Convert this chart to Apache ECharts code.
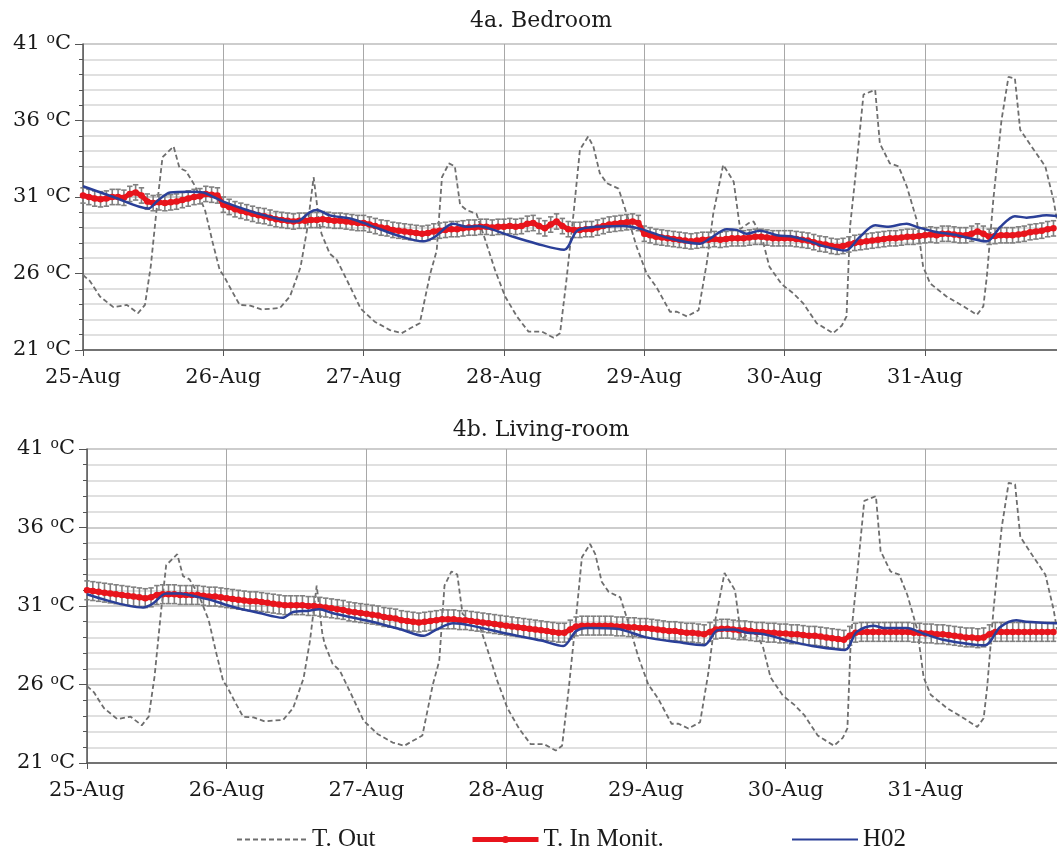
<!DOCTYPE html>
<html>
<head>
<meta charset="utf-8">
<script src="https://cdn.jsdelivr.net/npm/echarts@6/dist/echarts.min.js"></script>
<style>
  html, body { margin: 0; padding: 0; background: #fff; }
  #chart { width: 1057px; height: 850px; }
</style>
</head>
<body>
<div id="chart"></div>
<script>
var DAYS = ['25-Aug', '26-Aug', '27-Aug', '28-Aug', '29-Aug', '30-Aug', '31-Aug'];
var TITLES = ['4a. Bedroom', '4b. Living-room'];
var SERIES_NAMES = ['T. Out', 'T. In Monit.', 'H02'];

// outdoor temperature, [hours from 25-Aug 00:00, degC] - same in both panels
var tOut = [
  [0, 25.9], [1.2, 25.5], [2.9, 24.5], [5.2, 23.8], [7.5, 23.95], [9.4, 23.4], [10.6, 23.95],
  [11.6, 26.5], [12.7, 30.6], [13.6, 33.6], [15.5, 34.3], [16.5, 32.9], [17.6, 32.7], [19.2, 31.7],
  [20.9, 30.1], [22.2, 28.0], [23.4, 26.2], [24.0, 25.9], [25.7, 24.7], [26.8, 23.95], [28.6, 23.9],
  [30.5, 23.65], [33.7, 23.75], [35.4, 24.5], [37.2, 26.4], [38.3, 28.8], [39.45, 32.3], [40.4, 29.3],
  [40.8, 28.6], [42.2, 27.3], [43.4, 26.9], [45.1, 25.6], [47.5, 23.7], [49.9, 22.85], [52.5, 22.3],
  [54.5, 22.1], [55.9, 22.4], [57.6, 22.75], [59.4, 26.0], [60.5, 27.5], [61.4, 32.3], [62.6, 33.2],
  [63.6, 33.0], [64.5, 30.5], [65.6, 30.15], [67.3, 29.9], [68.8, 28.2], [70.5, 26.2], [72.2, 24.5],
  [74.2, 23.2], [76.2, 22.2], [78.5, 22.2], [80.5, 21.8], [81.6, 22.1], [82.7, 25.6], [83.9, 29.9],
  [85.0, 34.1], [86.4, 34.95], [87.3, 34.3], [88.4, 32.55], [89.6, 31.9], [91.6, 31.55], [93.0, 29.9],
  [94.7, 27.75], [96.4, 26.0], [98.1, 25.1], [100.4, 23.5], [101.6, 23.5], [103.3, 23.2], [105.3, 23.6],
  [106.7, 26.7], [107.8, 29.9], [109.5, 33.1], [111.3, 32.0], [112.4, 28.9], [113.9, 29.3], [114.7, 29.4],
  [116.1, 28.4], [117.4, 26.45], [119.5, 25.3], [121.5, 24.7], [123.2, 24.05], [125.5, 22.75], [128.3, 22.1],
  [129.8, 22.6], [130.6, 23.2], [131.2, 29.05], [132.1, 32.3], [133.5, 37.7], [135.5, 38.0], [136.3, 34.5],
  [138.0, 33.2], [139.5, 33.0], [140.9, 31.7], [142.6, 29.5], [143.7, 26.45], [144.9, 25.35], [147.7, 24.5],
  [150.6, 23.85], [152.9, 23.3], [154.0, 23.85], [154.6, 25.8], [155.7, 30.8], [157.1, 36.0], [158.3, 38.85],
  [159.4, 38.75], [160.3, 35.4], [162.6, 34.1], [164.6, 33.0], [166.0, 30.8], [166.6, 29.5]
];

// monitored indoor temperature, hourly from 25-Aug 00:00
var bedIn = [
  31.1, 31.0, 30.9, 30.85, 30.9, 31.0, 31.0, 30.95, 31.2, 31.3, 31.1, 30.7, 30.6, 30.65, 30.6, 30.65, 30.7, 30.8, 30.9, 31.0, 31.05, 31.2, 31.15, 31.1,
  30.5, 30.35, 30.2, 30.1, 30.0, 29.9, 29.8, 29.75, 29.65, 29.55, 29.5, 29.45, 29.4, 29.45, 29.45, 29.5, 29.5, 29.55, 29.5, 29.45, 29.45, 29.4, 29.35, 29.3,
  29.3, 29.2, 29.1, 29.0, 28.95, 28.85, 28.8, 28.75, 28.7, 28.65, 28.6, 28.65, 28.75, 28.8, 28.85, 28.9, 28.9, 28.95, 29.0, 29.0, 29.05, 29.05, 29.0, 29.05,
  29.05, 29.1, 29.05, 29.1, 29.25, 29.3, 29.1, 28.95, 29.2, 29.4, 29.1, 28.9, 28.85, 28.85, 28.9, 28.9, 29.0, 29.1, 29.2, 29.25, 29.3, 29.35, 29.4, 29.3,
  28.6, 28.5, 28.4, 28.35, 28.3, 28.25, 28.2, 28.15, 28.1, 28.15, 28.2, 28.2, 28.25, 28.2, 28.25, 28.3, 28.3, 28.3, 28.35, 28.4, 28.4, 28.35, 28.3, 28.3,
  28.3, 28.3, 28.25, 28.2, 28.15, 28.05, 27.95, 27.9, 27.8, 27.75, 27.8, 27.9, 28.0, 28.05, 28.1, 28.15, 28.2, 28.25, 28.3, 28.3, 28.35, 28.4, 28.4, 28.45,
  28.5, 28.55, 28.5, 28.6, 28.6, 28.55, 28.5, 28.5, 28.6, 28.75, 28.6, 28.4, 28.45, 28.5, 28.5, 28.5, 28.55, 28.6, 28.7, 28.75, 28.8, 28.9, 28.95
];
var livIn = [
  32.0, 31.95, 31.9, 31.85, 31.8, 31.75, 31.7, 31.65, 31.6, 31.55, 31.5, 31.55, 31.7, 31.75, 31.75, 31.75, 31.7, 31.7, 31.7, 31.7, 31.65, 31.6, 31.6, 31.55,
  31.5, 31.45, 31.4, 31.35, 31.3, 31.3, 31.25, 31.2, 31.15, 31.1, 31.05, 31.05, 31.05, 31.05, 31.0, 31.0, 30.95, 30.9, 30.85, 30.8, 30.75, 30.65, 30.6, 30.55,
  30.5, 30.45, 30.4, 30.3, 30.25, 30.2, 30.1, 30.05, 30.0, 29.95, 30.0, 30.05, 30.1, 30.15, 30.15, 30.15, 30.1, 30.1, 30.05, 30.0, 29.95, 29.9, 29.85, 29.8,
  29.75, 29.7, 29.65, 29.6, 29.55, 29.5, 29.45, 29.4, 29.35, 29.3, 29.3, 29.5, 29.7, 29.75, 29.75, 29.75, 29.75, 29.75, 29.75, 29.7, 29.7, 29.65, 29.65, 29.6,
  29.6, 29.55, 29.5, 29.45, 29.4, 29.4, 29.35, 29.3, 29.3, 29.25, 29.2, 29.35, 29.5, 29.55, 29.55, 29.5, 29.45, 29.45, 29.4, 29.35, 29.35, 29.3, 29.3, 29.25,
  29.25, 29.2, 29.2, 29.15, 29.1, 29.1, 29.05, 29.0, 28.95, 28.9, 28.85, 29.1, 29.3, 29.35, 29.35, 29.35, 29.35, 29.35, 29.35, 29.35, 29.35, 29.35, 29.3, 29.3,
  29.25, 29.25, 29.2, 29.2, 29.15, 29.1, 29.05, 29.0, 29.0, 28.95, 29.0, 29.2, 29.35, 29.35, 29.35, 29.35, 29.35, 29.35, 29.35, 29.35, 29.35, 29.35, 29.35
];
// half-width of the error bars on the monitored series
var bedErr = 0.5;
var livErr = 0.6;

// H02 logger, [hours, degC]
var bedH02 = [
  [0, 31.7], [5.2, 31.0], [11.2, 30.25], [12.6, 30.7], [14.9, 31.3], [18.3, 31.35], [20.6, 31.3], [22.3, 31.0],
  [24, 30.7], [28, 30.15], [32, 29.7], [36, 29.4], [37, 29.45], [38.8, 30.0], [40, 30.15], [42.2, 29.8],
  [45.7, 29.6], [49.1, 29.15], [53.7, 28.5], [58.2, 28.1], [60.2, 28.4], [62.2, 29.05], [63.3, 29.25], [65.6, 29.05],
  [67.6, 29.1], [70.2, 28.85], [73.6, 28.4], [77.6, 27.95], [82.3, 27.55], [84.4, 28.75], [86.5, 29.0], [92.4, 29.1],
  [95.5, 28.9], [99.8, 28.35], [105.5, 27.95], [107.3, 28.3], [110.1, 28.9], [111.8, 28.85], [113.5, 28.6], [115.8, 28.8],
  [118.7, 28.5], [121.5, 28.4], [124.4, 28.1], [126.1, 27.85], [130.4, 27.5], [132.9, 28.4], [135.5, 29.15], [137.5, 29.05],
  [140.9, 29.25], [142.6, 29.05], [145.5, 28.75], [149.5, 28.5], [154.6, 28.1], [156.9, 29.05], [159.4, 29.75], [161.4, 29.65],
  [164.8, 29.8], [166.6, 29.75]
];
var livH02 = [
  [0, 31.75], [9.6, 30.9], [11.3, 31.15], [13.6, 31.8], [15.9, 31.8], [19.3, 31.55], [21.6, 31.35], [25, 30.95],
  [29.6, 30.55], [33.6, 30.25], [35.3, 30.6], [38.1, 30.7], [39.9, 30.8], [42.1, 30.55], [46.4, 30.2], [50, 29.9],
  [54, 29.5], [57.8, 29.1], [60, 29.5], [62.9, 29.9], [66, 29.75], [72, 29.25], [78, 28.8], [81.8, 28.45],
  [84, 29.4], [86, 29.6], [91, 29.55], [96, 29.0], [101.4, 28.7], [106, 28.5], [108.3, 29.45], [111.1, 29.5],
  [113.4, 29.3], [116.3, 29.2], [121.4, 28.7], [125.4, 28.4], [130.2, 28.2], [132.2, 29.35], [135.1, 29.75], [136.8, 29.6],
  [140.8, 29.6], [143.6, 29.25], [147, 28.85], [154.2, 28.5], [156.8, 29.65], [159.6, 30.1], [161.3, 30.0], [166.6, 29.9]
];

var SERIF = 'DejaVu Serif';
var X_MAX = 166.6;

var chart = echarts.init(document.getElementById('chart'), null, { renderer: 'canvas' });

function hourly(vals) {
  return vals.map(function (v, i) { return [i, v]; });
}
function errRows(vals, err) {
  return vals.map(function (v, i) { return [i, v - err, v + err]; });
}

function xAxisFor(gi) {
  return {
    type: 'value', gridIndex: gi, min: 0, max: X_MAX, interval: 24,
    axisLine: { show: true, onZero: false, lineStyle: { color: '#555', width: 1.5 } },
    axisTick: { show: true, length: 6, lineStyle: { color: '#555' } },
    axisLabel: {
      margin: 17, showMaxLabel: false, color: '#1a1a1a', fontFamily: SERIF, fontSize: 21,
      formatter: function (v) { return DAYS[Math.round(v / 24)] || ''; }
    },
    splitLine: { show: true, lineStyle: { color: '#a8a8a8', width: 1 } }
  };
}
function yAxisFor(gi) {
  return {
    type: 'value', gridIndex: gi, min: 21, max: 41, interval: 5,
    axisLine: { show: true, lineStyle: { color: '#555', width: 1.5 } },
    axisTick: { show: true, length: 8, lineStyle: { color: '#555' } },
    minorTick: { show: true, splitNumber: 5, length: 4, lineStyle: { color: '#555' } },
    splitLine: { show: true, lineStyle: { color: '#bdbdbd', width: 1.5 } },
    minorSplitLine: { show: true, lineStyle: { color: '#d6d6d6', width: 1.5 } },
    axisLabel: {
      margin: 12, color: '#1a1a1a',
      formatter: function (v) { return '{n|' + v + ' }{s|o}{n|C}'; },
      rich: {
        n: { fontFamily: SERIF, fontSize: 21, color: '#1a1a1a' },
        s: { fontFamily: SERIF, fontSize: 14, color: '#1a1a1a', padding: [0, 0, 9, 0] }
      }
    }
  };
}

function errorBars(params, api) {
  var x = api.value(0);
  var top = api.coord([x, api.value(2)]);
  var bot = api.coord([x, api.value(1)]);
  var w = 2.7;
  var st = { stroke: '#808080', lineWidth: 1.6 };
  return {
    type: 'group',
    children: [
      { type: 'line', shape: { x1: top[0], y1: top[1], x2: bot[0], y2: bot[1] }, style: st },
      { type: 'line', shape: { x1: top[0] - w, y1: top[1], x2: top[0] + w, y2: top[1] }, style: st },
      { type: 'line', shape: { x1: bot[0] - w, y1: bot[1], x2: bot[0] + w, y2: bot[1] }, style: st }
    ]
  };
}

function panelSeries(gi, inVals, err, h02) {
  return [
    {
      name: SERIES_NAMES[0], type: 'line', xAxisIndex: gi, yAxisIndex: gi,
      data: tOut, symbol: 'none', smooth: false, z: 2,
      lineStyle: { color: '#6e6e6e', width: 1.8, type: [5, 3] },
      itemStyle: { color: '#6e6e6e' }
    },
    {
      type: 'custom', xAxisIndex: gi, yAxisIndex: gi, z: 3,
      renderItem: errorBars, encode: { x: 0, y: [1, 2] },
      data: errRows(inVals, err), silent: true
    },
    {
      name: SERIES_NAMES[1], type: 'line', xAxisIndex: gi, yAxisIndex: gi,
      data: hourly(inVals), symbol: 'circle', symbolSize: 6.5, z: 4,
      lineStyle: { color: '#e8141c', width: 5 },
      itemStyle: { color: '#e8141c' }
    },
    {
      name: SERIES_NAMES[2], type: 'line', xAxisIndex: gi, yAxisIndex: gi,
      data: h02, symbol: 'none', smooth: 0.3, z: 5,
      lineStyle: { color: '#2a3f98', width: 2.5 },
      itemStyle: { color: '#2a3f98' }
    }
  ];
}

function legendAt(left, name, w, opts) {
  var lg = {
    data: [name], left: left, top: 822, itemWidth: w, itemHeight: opts.h, itemGap: 0,
    textStyle: { fontFamily: 'Liberation Serif', fontSize: 25, color: '#1a1a1a', padding: [0, 0, 0, 0] }
  };
  if (opts.hideSymbol) lg.itemStyle = { opacity: 0 };
  if (opts.lineWidth) lg.lineStyle = { width: opts.lineWidth };
  return lg;
}

var option = {
  backgroundColor: '#fff',
  animation: false,
  title: [
    { text: TITLES[0], left: 536, top: 5, textAlign: 'center',
      textStyle: { fontFamily: SERIF, fontSize: 22, fontWeight: 'normal', color: '#1a1a1a' } },
    { text: TITLES[1], left: 536, top: 414, textAlign: 'center',
      textStyle: { fontFamily: SERIF, fontSize: 22, fontWeight: 'normal', color: '#1a1a1a' } }
  ],
  legend: [
    legendAt(231, SERIES_NAMES[0], 70, { h: 14, hideSymbol: true }),
    legendAt(465, SERIES_NAMES[1], 66, { h: 9, lineWidth: 5 }),
    legendAt(786, SERIES_NAMES[2], 66, { h: 14, hideSymbol: true })
  ],
  grid: [
    { left: 83, right: 0, top: 44, height: 306 },
    { left: 87, right: 0, top: 449, height: 314 }
  ],
  xAxis: [xAxisFor(0), xAxisFor(1)],
  yAxis: [yAxisFor(0), yAxisFor(1)],
  series: panelSeries(0, bedIn, bedErr, bedH02).concat(panelSeries(1, livIn, livErr, livH02))
};

chart.setOption(option);
window.addEventListener('resize', chart.resize);
</script>
</body>
</html>
